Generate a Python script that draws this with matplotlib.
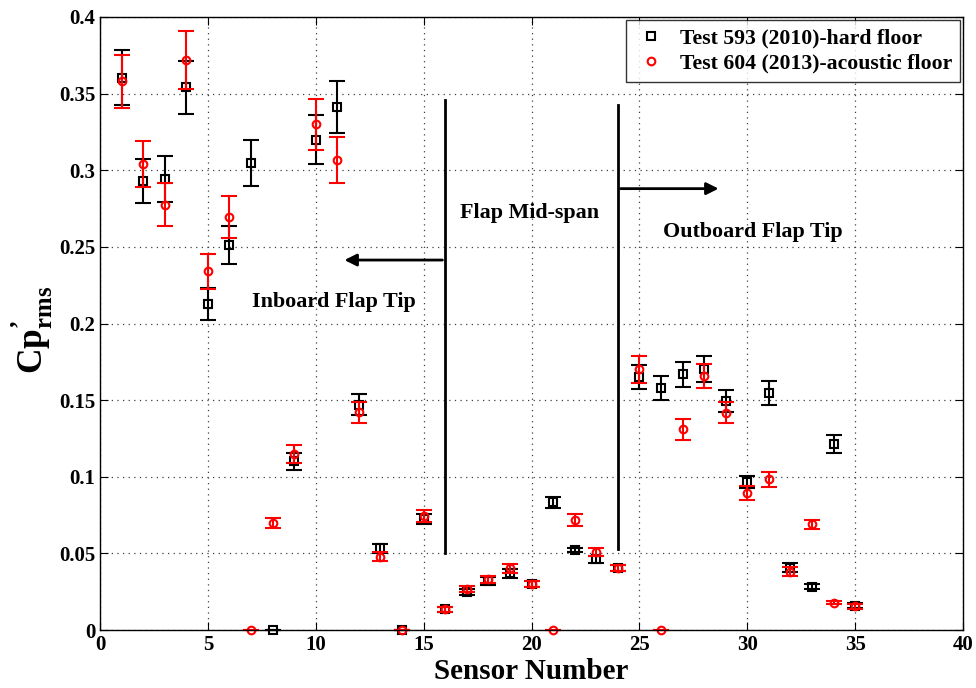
import numpy as np
import matplotlib.pyplot as plt
from matplotlib.ticker import FormatStrFormatter

plt.rcParams['font.family'] = 'Liberation Serif'
plt.rcParams['font.weight'] = 'bold'
plt.rcParams['mathtext.fontset'] = 'custom'
plt.rcParams['mathtext.rm'] = 'Liberation Serif:bold'
plt.rcParams['mathtext.bf'] = 'Liberation Serif:bold'

sensors = np.arange(1, 36)

# Test 593 (2010) hard floor
cp_593 = [0.3605, 0.293, 0.294, 0.354, 0.2125, 0.251, 0.305, 0.0, 0.110, 0.320,
          0.3414, 0.147, 0.0533, 0.0, 0.0725, 0.0135, 0.0246, 0.032, 0.037, 0.0298,
          0.0833, 0.0522, 0.0461, 0.0406, 0.1652, 0.158, 0.1668, 0.1703, 0.1494, 0.0967,
          0.1548, 0.0406, 0.0283, 0.1213, 0.0159]
err_593 = [0.018, 0.0145, 0.015, 0.0176, 0.0105, 0.0125, 0.015, 0.0, 0.0053, 0.016,
           0.017, 0.007, 0.003, 0.0, 0.0035, 0.0015, 0.002, 0.0025, 0.003, 0.002,
           0.0035, 0.0015, 0.0025, 0.002, 0.008, 0.008, 0.008, 0.0085, 0.007, 0.004,
           0.0078, 0.003, 0.0015, 0.006, 0.0015]

# Test 604 (2013) acoustic floor
cp_604 = [0.358, 0.304, 0.2775, 0.372, 0.234, 0.2694, 0.0, 0.070, 0.1148, 0.330,
          0.3066, 0.142, 0.0478, 0.0, 0.0745, 0.0135, 0.0265, 0.033, 0.0402, 0.0298,
          0.0, 0.0718, 0.051, 0.0406, 0.170, 0.0, 0.1309, 0.1657, 0.1418, 0.0892,
          0.0983, 0.038, 0.069, 0.0178, 0.0155]
err_604 = [0.0175, 0.015, 0.014, 0.019, 0.0115, 0.0137, 0.0, 0.0033, 0.0058, 0.0165,
           0.015, 0.0068, 0.003, 0.0, 0.004, 0.0015, 0.002, 0.0025, 0.003, 0.002,
           0.0, 0.004, 0.0025, 0.002, 0.0088, 0.0, 0.0066, 0.008, 0.0068, 0.0045,
           0.005, 0.003, 0.003, 0.001, 0.0015]

fig = plt.figure(figsize=(9.76, 6.88), dpi=100)
ax = fig.add_axes([100/976, 1-630/688, 863/976, 613/688])

ax.errorbar(sensors, cp_593, yerr=err_593, fmt='none', ecolor='black',
            elinewidth=1.5, capsize=5.5, capthick=1.5, clip_on=False)
ax.plot(sensors, cp_593, 's', mfc='none', mec='black', ms=5.5, mew=1.5,
        label='Test 593 (2010)-hard floor', clip_on=False)
ax.errorbar(sensors, cp_604, yerr=err_604, fmt='none', ecolor='red',
            elinewidth=1.5, capsize=5.5, capthick=1.5, clip_on=False)
ax.plot(sensors, cp_604, 'o', mfc='none', mec='red', ms=5.5, mew=1.5,
        label='Test 604 (2013)-acoustic floor', clip_on=False)

# region separators and arrows
ax.plot([16, 16], [0.05, 0.3457], color='black', lw=2)
ax.plot([24, 24], [0.053, 0.3425], color='black', lw=2)
ax.annotate('', xy=(11.2, 0.2414), xytext=(16, 0.2414),
            arrowprops=dict(arrowstyle='-|>', color='black', lw=2, mutation_scale=18))
ax.annotate('', xy=(28.8, 0.288), xytext=(24, 0.288),
            arrowprops=dict(arrowstyle='-|>', color='black', lw=2, mutation_scale=18))

ax.text(10.85, 0.2142, 'Inboard Flap Tip', fontsize=15.8, fontweight='bold', ha='center', va='center')
ax.text(19.93, 0.2718, 'Flap Mid-span', fontsize=15.8, fontweight='bold', ha='center', va='center')
ax.text(30.28, 0.2598, 'Outboard Flap Tip', fontsize=15.8, fontweight='bold', ha='center', va='center')

ax.set_xlim(0, 40)
ax.set_ylim(0, 0.4)
ax.set_xticks(np.arange(0, 41, 5))
ax.set_yticks(np.arange(0, 0.41, 0.05))
ax.yaxis.set_major_formatter(FormatStrFormatter('%g'))
ax.tick_params(direction='in', length=6, labelsize=15, top=True, right=True)
ax.grid(True, linestyle=(0, (1, 3.5)), color='0.25', linewidth=0.9)
for s in ax.spines.values():
    s.set_linewidth(1.0)

ax.set_xlabel('Sensor Number', fontsize=21, fontweight='bold', labelpad=2)
ax.set_ylabel("$\\mathbf{Cp}^{\u2019}_{\\mathbf{rms}}$", fontsize=25.5)
ax.yaxis.set_label_coords(-0.052, 0.49)

leg = ax.legend(loc='upper right', fontsize=15.7, frameon=True, fancybox=False,
                edgecolor='black', handletextpad=0.5, borderaxespad=0.15,
                handlelength=1.6, labelspacing=0.25, borderpad=0.35)
leg.get_frame().set_linewidth(1.0)

fig.savefig('out.png', dpi=100)
